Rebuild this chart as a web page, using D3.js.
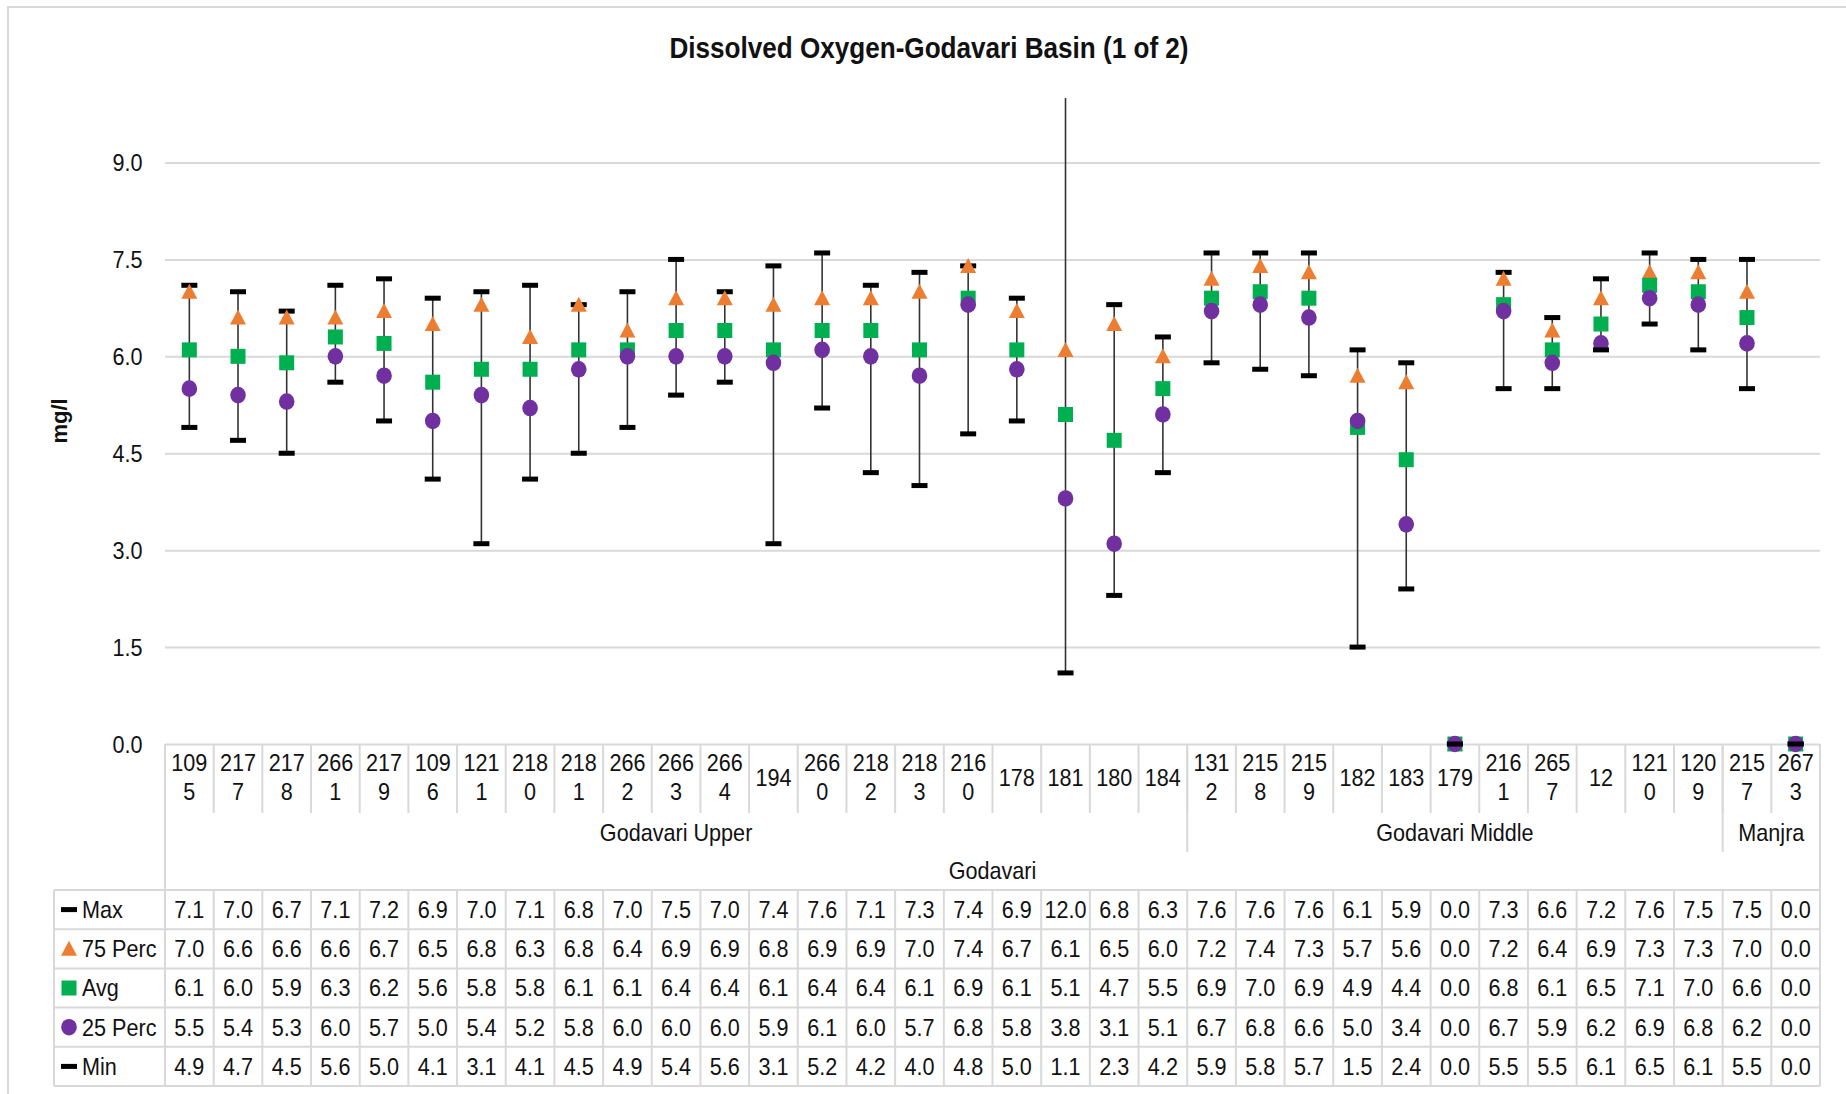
<!DOCTYPE html>
<html>
<head>
<meta charset="utf-8">
<script src="https://cdn.jsdelivr.net/npm/d3@7"></script>
<style>
  html, body { margin: 0; padding: 0; background: #fff; }
  svg { display: block; font-family: "Liberation Sans", Arial, sans-serif; }
</style>
</head>
<body>
<svg id="chart" width="1846" height="1094"></svg>
<script>
// ---------------- DATA ----------------
const categories = ["1095","2177","2178","2661","2179","1096","1211","2180","2181","2662","2663","2664","194","2660","2182","2183","2160","178","181","180","184",
                    "1312","2158","2159","182","183","179","2161","2657","12","1210","1209",
                    "2157","2673"];
const groupNames  = ["Godavari Upper", "Godavari Middle", "Manjra"];
const groupCounts = [21, 11, 2];
const topGroup = "Godavari";
const title = "Dissolved Oxygen-Godavari Basin (1 of 2)";
const yTitle = "mg/l";
const yTicks = [0, 1.5, 3.0, 4.5, 6.0, 7.5, 9.0];
const seriesNames = ["Max", "75 Perc", "Avg", "25 Perc", "Min"];

const maxVals = [7.1,7.0,6.7,7.1,7.2,6.9,7.0,7.1,6.8,7.0,7.5,7.0,7.4,7.6,7.1,7.3,7.4,6.9,12.0,6.8,6.3,7.6,7.6,7.6,6.1,5.9,0.0,7.3,6.6,7.2,7.6,7.5,7.5,0.0];
const p75Vals = [7.0,6.6,6.6,6.6,6.7,6.5,6.8,6.3,6.8,6.4,6.9,6.9,6.8,6.9,6.9,7.0,7.4,6.7,6.1,6.5,6.0,7.2,7.4,7.3,5.7,5.6,0.0,7.2,6.4,6.9,7.3,7.3,7.0,0.0];
const avgVals = [6.1,6.0,5.9,6.3,6.2,5.6,5.8,5.8,6.1,6.1,6.4,6.4,6.1,6.4,6.4,6.1,6.9,6.1,5.1,4.7,5.5,6.9,7.0,6.9,4.9,4.4,0.0,6.8,6.1,6.5,7.1,7.0,6.6,0.0];
const p25Vals = [5.5,5.4,5.3,6.0,5.7,5.0,5.4,5.2,5.8,6.0,6.0,6.0,5.9,6.1,6.0,5.7,6.8,5.8,3.8,3.1,5.1,6.7,6.8,6.6,5.0,3.4,0.0,6.7,5.9,6.2,6.9,6.8,6.2,0.0];
const minVals = [4.9,4.7,4.5,5.6,5.0,4.1,3.1,4.1,4.5,4.9,5.4,5.6,3.1,5.2,4.2,4.0,4.8,5.0,1.1,2.3,4.2,5.9,5.8,5.7,1.5,2.4,0.0,5.5,5.5,6.1,6.5,6.1,5.5,0.0];
const seriesVals = [maxVals, p75Vals, avgVals, p25Vals, minVals];

// ---------------- LAYOUT ----------------
const plotL = 165, plotR = 1820, plotB = 744, plotT = 97.9;
const SX = 0.9;           // slight horizontal squeeze of text as in reference
const FS = 24;
const gridCol = "#D9D9D9";
const textCol = "#111";
const orange = "#ED7D31", green = "#00B050", purple = "#7030A0";

const svg = d3.select("#chart");

const x = d3.scaleBand().domain(categories).range([plotL, plotR]).padding(0);
const y = d3.scaleLinear().domain([0, 10]).range([plotB, plotT]);
const bw = x.bandwidth();

function T(parent, px, py, s, o = {}) {
  const size = o.size || FS, sx = o.sx || SX;
  return parent.append("text")
    .attr("transform", `translate(${px},${py}) scale(${sx},1)`)
    .attr("text-anchor", o.anchor || "middle")
    .attr("dominant-baseline", "central")
    .style("font-size", size + "px")
    .style("font-weight", o.weight || "normal")
    .style("fill", textCol)
    .text(s);
}

// chart-area border (extends beyond right/bottom of image as in reference)
svg.append("rect").attr("x", 8).attr("y", 7).attr("width", 1900).attr("height", 1200)
  .attr("fill", "none").attr("stroke", gridCol).attr("stroke-width", 2);

// title
T(svg, 929, 48, title, { size: 30, weight: "bold", sx: 0.87 });

// y axis title
svg.append("text")
  .attr("transform", `translate(59,421) rotate(-90)`)
  .attr("text-anchor", "middle").attr("dominant-baseline", "central")
  .style("font-size", "22px").style("font-weight", "bold").style("fill", textCol)
  .text(yTitle);

// y axis with gridlines
const yAxis = d3.axisLeft(y).tickValues(yTicks).tickFormat(d3.format(".1f"))
  .tickSizeInner(-(plotR - plotL)).tickSizeOuter(0).tickPadding(25);
const gy = svg.append("g").attr("transform", `translate(${plotL},0)`).call(yAxis);
gy.select(".domain").remove();
gy.selectAll(".tick line").attr("stroke", gridCol).attr("stroke-width", 2);
gy.selectAll(".tick text")
  .style("font-size", FS + "px").style("fill", textCol)
  .style("font-family", "'Liberation Sans', Arial, sans-serif")
  .attr("dy", null).attr("dominant-baseline", "central")
  .attr("transform", `scale(${SX},1)`);

// ---------------- CATEGORY AXIS / TABLE ----------------
const tbl = svg.append("g");
function line(x1, y1, x2, y2) {
  tbl.append("line").attr("x1", x1).attr("y1", y1).attr("x2", x2).attr("y2", y2)
    .attr("stroke", gridCol).attr("stroke-width", 2);
}
const labTop = plotB, labBot = 813, grpBot = 852, tabTop = 890, rowH = 39.2;
const tabBot = tabTop + rowH * 5, tabLeft = 54;

// category separators
categories.forEach((c, i) => { if (i > 0) line(x(c), labTop, x(c), labBot); });
// group separators
let acc = 0;
groupCounts.forEach((n, gi) => {
  if (gi > 0) line(plotL + acc * bw, labTop, plotL + acc * bw, grpBot);
  acc += n;
});
// outer edges of axis area
line(plotL, labTop, plotL, tabBot);
line(plotR, labTop, plotR, tabBot);

// category labels (wrapped to 3 characters per line)
categories.forEach(c => {
  const cx = x(c) + bw / 2;
  if (c.length > 3) {
    T(tbl, cx, 763, c.slice(0, 3));
    T(tbl, cx, 792, c.slice(3));
  } else {
    T(tbl, cx, 778, c);
  }
});
// group labels
acc = 0;
groupNames.forEach((g, gi) => {
  const n = groupCounts[gi];
  T(tbl, plotL + (acc + n / 2) * bw, 833, g);
  acc += n;
});
T(tbl, (plotL + plotR) / 2, 871, topGroup);

// data table
for (let r = 0; r <= 5; r++) line(tabLeft, tabTop + r * rowH, plotR, tabTop + r * rowH);
line(tabLeft, tabTop, tabLeft, tabBot);
categories.forEach((c, i) => { if (i > 0) line(x(c), tabTop, x(c), tabBot); });
seriesVals.forEach((vals, r) => {
  const cy = tabTop + r * rowH + rowH / 2;
  vals.forEach((v, i) => T(tbl, x(categories[i]) + bw / 2, cy, v.toFixed(1)));
  T(tbl, 82, cy, seriesNames[r], { anchor: "start" });
});

// ---------------- MARKERS ----------------
function dash(g, cx, cy) {
  g.append("rect").attr("x", cx - 8).attr("y", cy - 2.5).attr("width", 16).attr("height", 5).attr("fill", "#000");
}
function tri(g, cx, cy) {
  g.append("path").attr("d", `M${cx},${cy - 8} L${cx + 8},${cy + 7} L${cx - 8},${cy + 7} Z`).attr("fill", orange);
}
function sq(g, cx, cy) {
  g.append("rect").attr("x", cx - 7.5).attr("y", cy - 7.5).attr("width", 15).attr("height", 15).attr("fill", green);
}
function circ(g, cx, cy) {
  g.append("ellipse").attr("cx", cx).attr("cy", cy).attr("rx", 7.8).attr("ry", 8.3).attr("fill", purple);
}
const markerFns = [dash, tri, sq, circ, dash];

// legend keys in table
const legG = svg.append("g");
seriesVals.forEach((vals, r) => markerFns[r](legG, 69, tabTop + r * rowH + rowH / 2));

// clip to the plot area top
svg.append("clipPath").attr("id", "plotClip").append("rect")
  .attr("x", plotL - 20).attr("y", plotT).attr("width", plotR - plotL + 40).attr("height", plotB - plotT + 20);

const plotG = svg.append("g").attr("clip-path", "url(#plotClip)");

// high-low lines
categories.forEach((c, i) => {
  if (maxVals[i] === minVals[i]) return;
  const cx = x(c) + bw / 2;
  plotG.append("line").attr("x1", cx).attr("x2", cx)
    .attr("y1", y(maxVals[i])).attr("y2", y(minVals[i]))
    .attr("stroke", "#333").attr("stroke-width", 1.6);
});
// series markers in Excel series order
seriesVals.forEach((vals, r) => {
  vals.forEach((v, i) => markerFns[r](plotG, x(categories[i]) + bw / 2, y(v)));
});
</script>
</body>
</html>
